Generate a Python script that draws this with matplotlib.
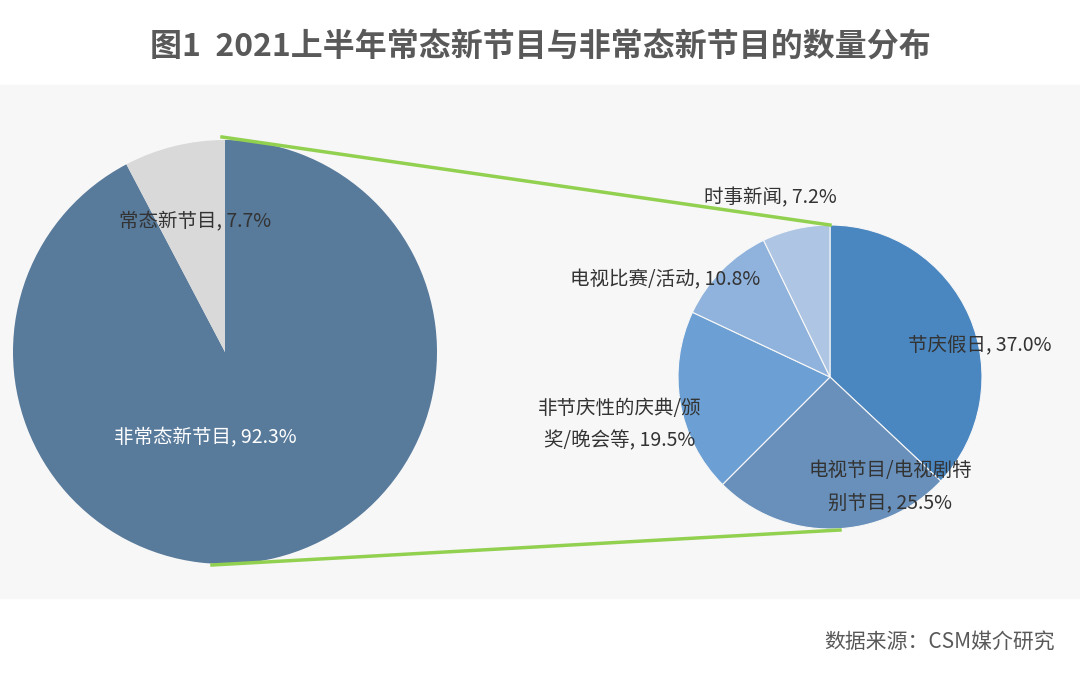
import matplotlib
matplotlib.use("Agg")
import matplotlib.pyplot as plt
from matplotlib.patches import Rectangle

plt.rcParams['font.family'] = ['Noto Sans CJK SC', 'DejaVu Sans']

main_labels = ["非常态新节目", "常态新节目"]
main_values = [92.3, 7.7]
sub_labels = ["节庆假日", "电视节目/电视剧特\n别节目", "非节庆性的庆典/颁\n奖/晚会等", "电视比赛/活动", "时事新闻"]
sub_values = [37.0, 25.5, 19.5, 10.8, 7.2]

W, H = 1080, 683
fig = plt.figure(figsize=(W/100, H/100), dpi=100)
ax = fig.add_axes([0, 0, 1, 1])
ax.set_xlim(0, W); ax.set_ylim(0, H); ax.set_aspect('equal'); ax.axis('off')
Y = lambda y: H - y

ax.add_patch(Rectangle((0, Y(598)), W, 598-85, color='#f7f7f7', zorder=0))

ax.pie(main_values, colors=['#587a9b', '#d9d9d9'], startangle=90, counterclock=False,
       center=(225, Y(352)), radius=212, frame=True, wedgeprops=dict(linewidth=0))
ax.pie(sub_values, colors=['#4a86c0', '#6890bb', '#6ca0d4', '#8fb3dc', '#aec6e3'],
       startangle=90, counterclock=False, center=(830, Y(377)), radius=152, frame=True,
       wedgeprops=dict(edgecolor='#f7f7f7', linewidth=0.8))
ax.set_xlim(0, W); ax.set_ylim(0, H); ax.axis('off')

g = '#92d050'
ax.plot([222, 830], [Y(137), Y(225)], color=g, lw=2.5)
ax.plot([212, 840], [Y(565), Y(530)], color=g, lw=2.5)

fs = 14
ax.text(195, Y(222), f"{main_labels[1]}, {main_values[1]}%", ha='center', va='center', fontsize=fs, color='#333333')
ax.text(205, Y(438), f"{main_labels[0]}, {main_values[0]}%", ha='center', va='center', fontsize=fs, color='white')

pos = [(980, 346), (890, 487), (620, 425), (665, 280), (770, 198)]
for (x, y), l, v in zip(pos, sub_labels, sub_values):
    ax.text(x, Y(y), f"{l}, {v:.1f}%", ha='center', va='center', fontsize=fs, color='#333333', linespacing=1.7)

ax.text(540, Y(47), "图1  2021上半年常态新节目与非常态新节目的数量分布", ha='center', va='center',
        fontsize=23, color='#595959', fontweight='bold')
ax.text(1055, Y(642), "数据来源：CSM媒介研究", ha='right', va='center', fontsize=15, color='#595959')

fig.savefig("out.png", dpi=100)
